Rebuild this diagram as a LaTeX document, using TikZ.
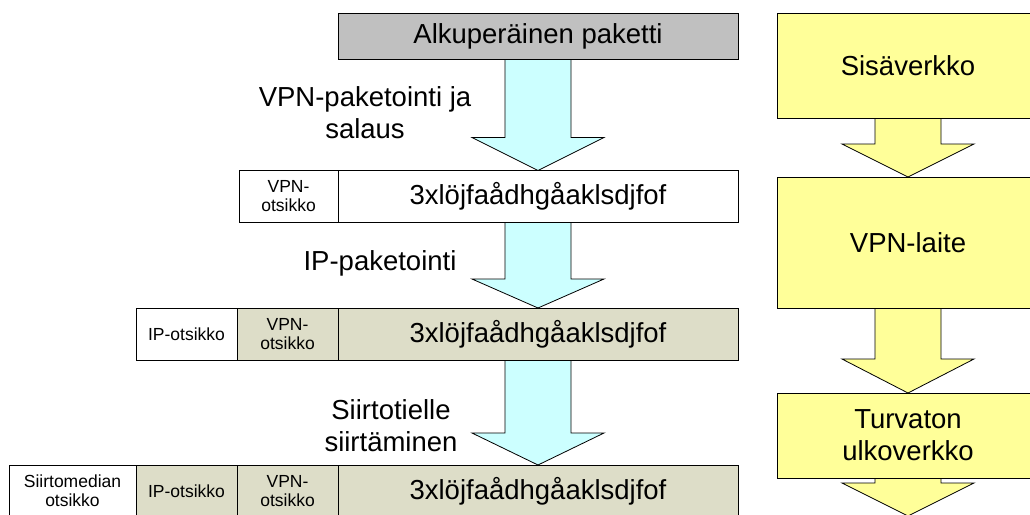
\documentclass[tikz,border=0pt]{standalone}
\usepackage{fontspec}
\setmainfont{Liberation Sans}
\usetikzlibrary{positioning,calc,backgrounds}

\definecolor{packetgray}{RGB}{192,192,192}
\definecolor{headbeige}{RGB}{221,221,200}
\definecolor{flowcyan}{RGB}{204,255,255}
\definecolor{netyellow}{RGB}{255,255,153}

\begin{document}
\begin{tikzpicture}[x=1pt,y=-1pt,
    every node/.style={draw,outer sep=0pt,inner sep=1pt,line width=0.8pt,align=center},
    bigtext/.style={font=\fontsize{27.5}{32}\selectfont},
    smalltext/.style={font=\fontsize{17.5}{19}\selectfont},
    pkt/.style={bigtext,minimum width=400pt,minimum height=52pt,fill=headbeige},
    hdr/.style={smalltext,minimum width=101pt,minimum height=52pt,fill=headbeige},
    net/.style={bigtext,minimum width=262pt,fill=netyellow},
    lbl/.style={draw=none,bigtext},
    blockarrow/.style={draw,line width=0.8pt,line join=miter}]
    \useasboundingbox (0,0) rectangle (1030,514);
    \clip (0,0) rectangle (1030,514);

    % Packet at each stage
    \node[pkt,fill=packetgray,minimum height=46pt] (d0) at (538,36) {Alkuperäinen paketti};

    \node[pkt,fill=white] (d1) at (538,196.5) {3xlöjfaådhgåaklsdjfof};
    \node[hdr,fill=white,minimum width=99pt,left=0pt of d1] (v1) {VPN-\\otsikko};

    \node[pkt] (d2) at (538,334) {3xlöjfaådhgåaklsdjfof};
    \node[hdr,left=0pt of d2] (v2) {VPN-\\otsikko};
    \node[hdr,fill=white,left=0pt of v2] (i2) {IP-otsikko};

    \node[pkt] (d3) at (538,491) {3xlöjfaådhgåaklsdjfof};
    \node[hdr,left=0pt of d3] (v3) {VPN-\\otsikko};
    \node[hdr,left=0pt of v3] (i3) {IP-otsikko};
    \node[hdr,fill=white,minimum width=127pt,left=0pt of i3] (s3) {Siirtomedian\\otsikko};

    % Step labels
    \node[lbl] (l1) at (365,113) {VPN-paketointi ja\\salaus};
    \node[lbl] (l2) at (380,263) {IP-paketointi};
    \node[lbl] (l3) at (391,426) {Siirtotielle\\siirtäminen};

    % Networks
    \node[net,minimum height=105pt] (r1) at (908,65.5) {Sisäverkko};
    \node[net,minimum height=131pt] (r2) at (908,242.5) {VPN-laite};
    \node[net,minimum height=85pt] (r3) at (908,435.5) {Turvaton\\ulkoverkko};
    \coordinate (r4) at (908,516);

    % Block arrows behind the boxes
    \begin{pgfonlayer}{background}
    \foreach \a/\b/\h in {d0.south/d1.north/33,d1.south/d2.north/29,d2.south/d3.north/32} {
      \filldraw[blockarrow,fill=flowcyan] ($(\a)+(-33,0)$) -- ($(\b)+(-33,-\h)$)
        -- ($(\b)+(-66,-\h)$) -- (\b) -- ($(\b)+(66,-\h)$) -- ($(\b)+(33,-\h)$) -- ($(\a)+(33,0)$);
    }
    \foreach \a/\b/\h in {r1.south/r2.north/33,r2.south/r3.north/34,r3.south/r4/33} {
      \filldraw[blockarrow,fill=netyellow] ($(\a)+(-33,0)$) -- ($(\b)+(-33,-\h)$)
        -- ($(\b)+(-66,-\h)$) -- (\b) -- ($(\b)+(66,-\h)$) -- ($(\b)+(33,-\h)$) -- ($(\a)+(33,0)$);
    }
    \end{pgfonlayer}
\end{tikzpicture}
\end{document}
